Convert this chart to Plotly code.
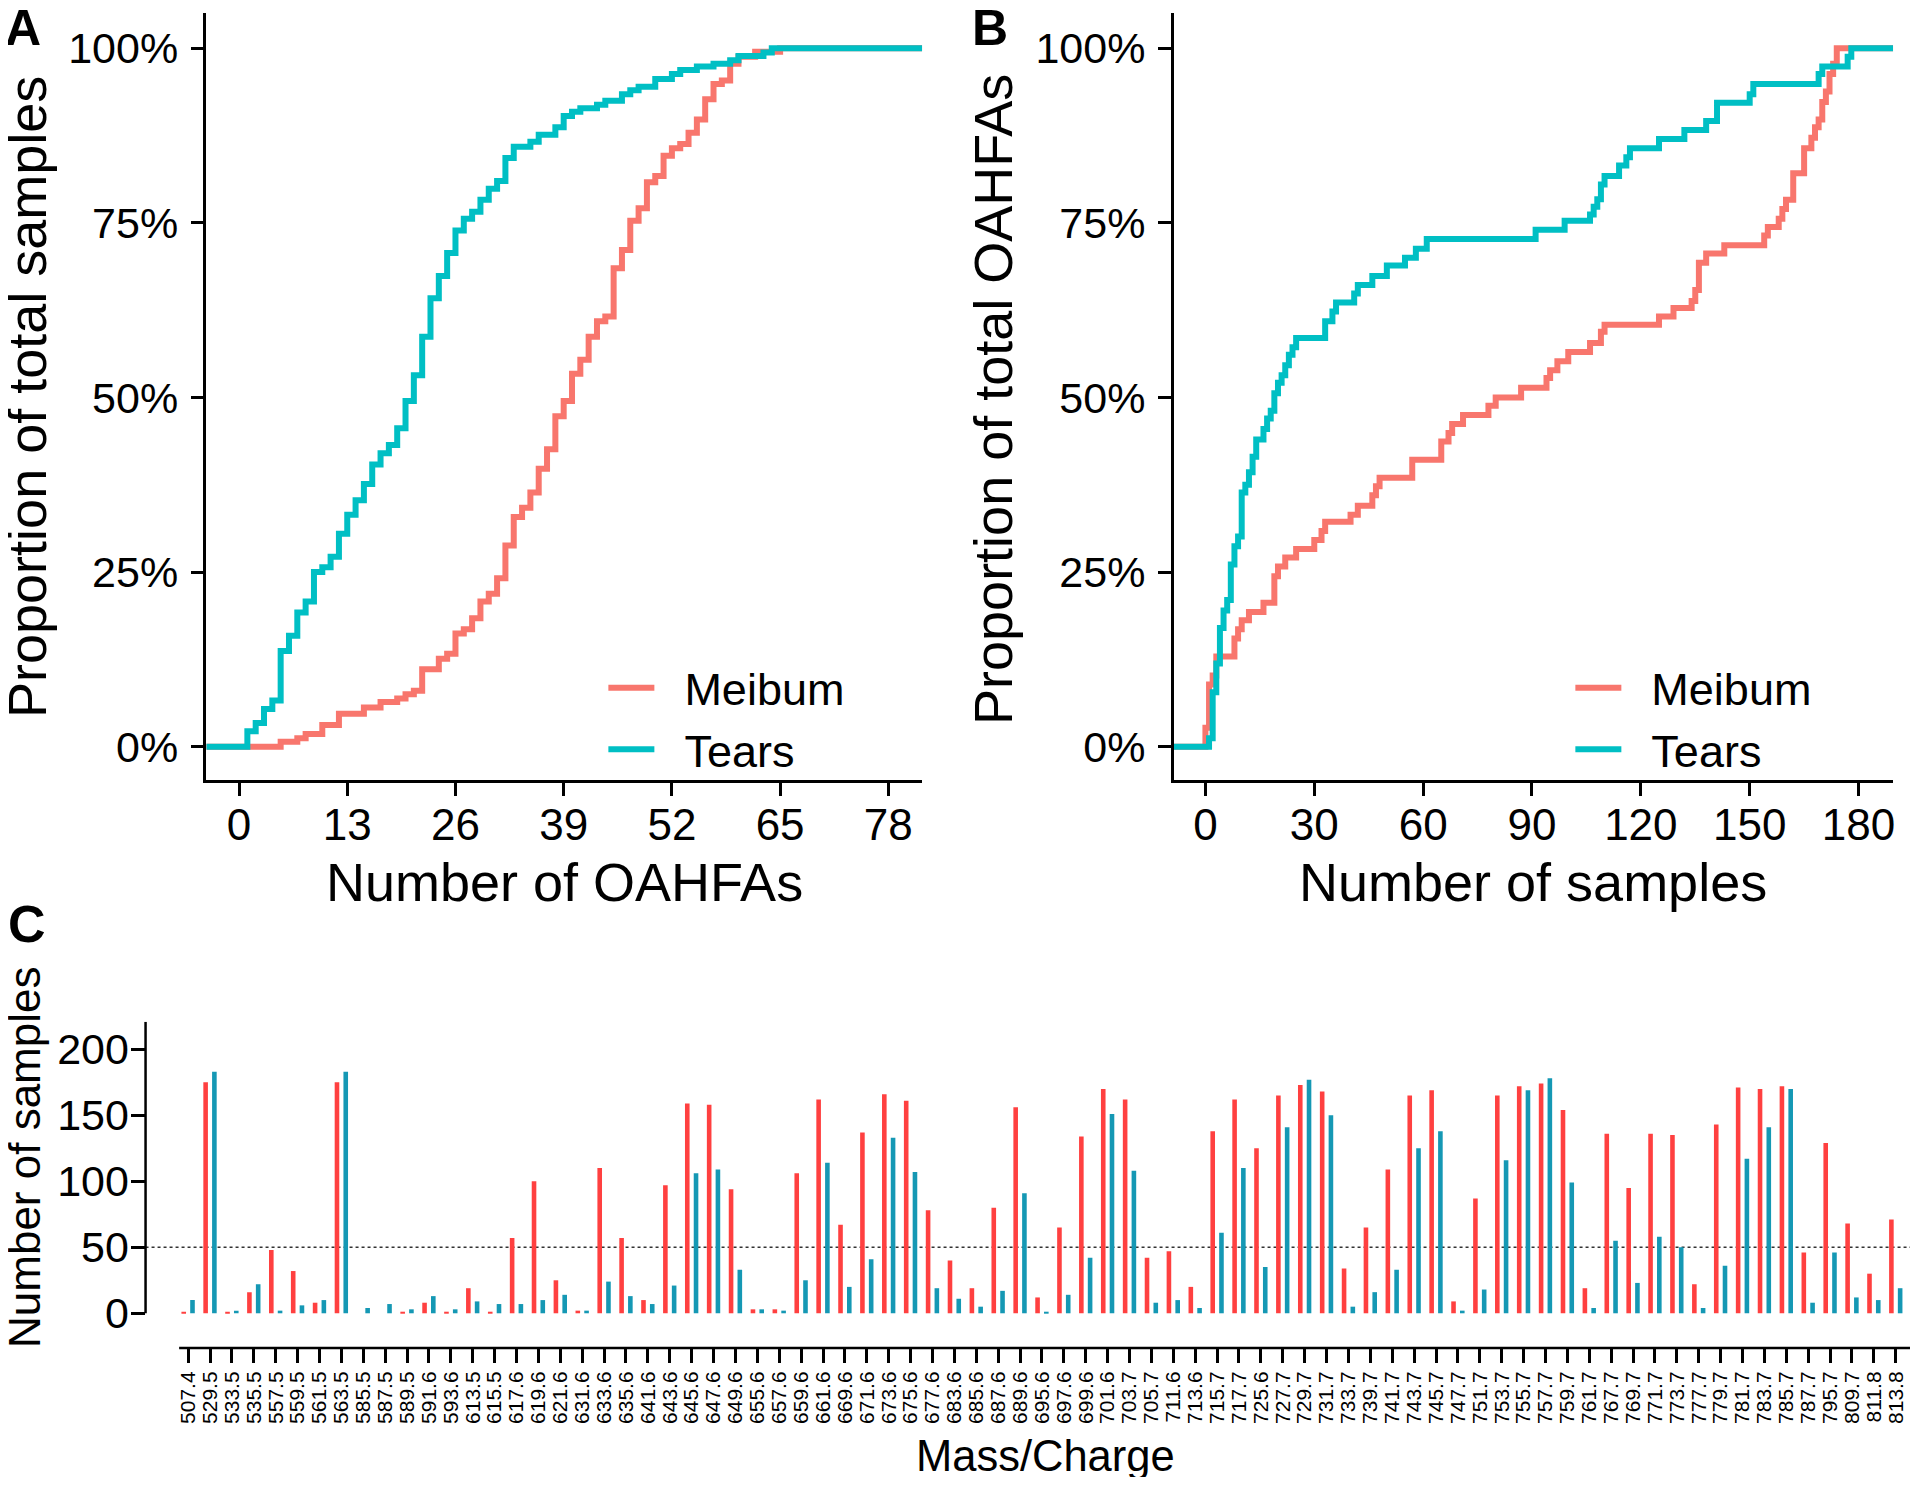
import plotly.graph_objects as go

# the page body keeps its default 8px margin, so the figure is drawn 8px in from the corner
PAGE_W, PAGE_H, BODY_MARGIN = 1920, 1485, 8
W, H = PAGE_W - 2 * BODY_MARGIN, PAGE_H - 2 * BODY_MARGIN
FONT = "Liberation Sans, Arial, Helvetica, sans-serif"
MEIBUM_LINE = "#F8766D"
TEARS_LINE = "#00BFC4"
MEIBUM_BAR = "#FF4040"
TEARS_BAR = "#1598B4"

# --- panel A: ECDF of number of OAHFAs per sample (step points) ---
a_meibum_x = [5, 7, 8, 10, 12, 15, 17, 19, 20, 21, 22, 24, 25, 26, 27, 28, 29, 30, 31, 32,
              33, 34, 35, 36, 37, 38, 39, 40, 41, 42, 43, 44, 45, 46, 47, 48, 49, 50, 51, 52,
              53, 54, 55, 56, 57, 58, 59, 60, 62, 65]
a_meibum_y = [0.007, 0.012, 0.018, 0.031, 0.047, 0.056, 0.064, 0.069, 0.075, 0.08,
              0.111, 0.126, 0.133, 0.162, 0.168, 0.184, 0.208, 0.219, 0.241, 0.288,
              0.329, 0.342, 0.364, 0.398, 0.426, 0.473, 0.495, 0.534, 0.554, 0.587,
              0.609, 0.616, 0.685, 0.711, 0.753, 0.771, 0.808, 0.817, 0.846, 0.857,
              0.863, 0.879, 0.898, 0.927, 0.949, 0.954, 0.978, 0.988, 0.995, 1.0]
a_tears_x = [1, 2, 3, 4, 5, 6, 7, 8, 9, 10, 11, 12, 13, 14, 15, 16, 17, 18, 19, 20,
             21, 22, 23, 24, 25, 26, 27, 28, 29, 30, 31, 32, 33, 35, 36, 38, 39, 40, 41, 43,
             44, 46, 47, 48, 50, 52, 53, 55, 57, 59, 60, 63, 64]
a_tears_y = [0.022, 0.034, 0.054, 0.066, 0.137, 0.159, 0.192, 0.208, 0.25, 0.257,
             0.272, 0.305, 0.332, 0.353, 0.376, 0.404, 0.42, 0.432, 0.456, 0.495,
             0.532, 0.587, 0.642, 0.674, 0.707, 0.739, 0.756, 0.766, 0.783, 0.799,
             0.81, 0.843, 0.859, 0.866, 0.876, 0.887, 0.903, 0.909, 0.914, 0.919,
             0.925, 0.934, 0.94, 0.945, 0.956, 0.963, 0.969, 0.974, 0.978, 0.983,
             0.989, 0.994, 1.0]

# --- panel B: ECDF of number of samples per OAHFA (step points) ---
b_meibum_x = [0, 1, 2, 3, 8, 9, 10, 12, 16, 19, 20, 22, 25, 30, 32, 33, 40, 42, 46, 47,
              48, 57, 65, 67, 68, 71, 78, 80, 87, 94, 95, 97, 100, 106, 109, 110, 125, 129, 134, 135,
              136, 138, 143, 154, 155, 158, 159, 160, 162, 165, 167, 168, 169, 170, 171, 172, 173, 174]
b_meibum_y = [0.027, 0.089, 0.102, 0.129, 0.155, 0.168, 0.181, 0.193, 0.206, 0.244,
              0.258, 0.271, 0.283, 0.296, 0.309, 0.322, 0.332, 0.345, 0.360, 0.373,
              0.385, 0.411, 0.437, 0.449, 0.462, 0.475, 0.488, 0.500, 0.514, 0.528,
              0.539, 0.552, 0.565, 0.578, 0.594, 0.604, 0.616, 0.628, 0.638, 0.654,
              0.693, 0.706, 0.718, 0.732, 0.744, 0.756, 0.770, 0.783, 0.821, 0.857,
              0.872, 0.887, 0.898, 0.923, 0.938, 0.963, 0.978, 1.0]
b_tears_x = [1, 2, 3, 4, 5, 6, 7, 8, 9, 10, 11, 12, 13, 14, 16, 17, 18, 19, 20, 21,
             22, 23, 24, 25, 33, 35, 36, 41, 42, 46, 50, 55, 58, 61, 91, 99, 106, 107, 108, 109,
             110, 114, 116, 117, 125, 132, 138, 141, 150, 151, 169, 170, 177, 178]
b_tears_y = [0.012, 0.078, 0.119, 0.170, 0.195, 0.210, 0.261, 0.287, 0.301, 0.364,
             0.375, 0.393, 0.415, 0.440, 0.455, 0.470, 0.481, 0.506, 0.521, 0.532,
             0.546, 0.561, 0.572, 0.585, 0.609, 0.623, 0.636, 0.649, 0.661, 0.674,
             0.689, 0.700, 0.713, 0.727, 0.740, 0.753, 0.762, 0.773, 0.784, 0.805,
             0.817, 0.832, 0.844, 0.857, 0.870, 0.883, 0.896, 0.922, 0.934, 0.949,
             0.963, 0.974, 0.988, 1.0]

# --- panel C: number of samples per mass/charge ---
mass_charge = ["507.4", "529.5", "533.5", "535.5", "557.5", "559.5", "561.5", "563.5", "585.5", "587.5",
               "589.5", "591.6", "593.6", "613.5", "615.5", "617.6", "619.6", "621.6", "631.6", "633.6",
               "635.6", "641.6", "643.6", "645.6", "647.6", "649.6", "655.6", "657.6", "659.6", "661.6",
               "669.6", "671.6", "673.6", "675.6", "677.6", "683.6", "685.6", "687.6", "689.6", "695.6",
               "697.6", "699.6", "701.6", "703.7", "705.7", "711.6", "713.6", "715.7", "717.7", "725.6",
               "727.7", "729.7", "731.7", "733.7", "739.7", "741.7", "743.7", "745.7", "747.7", "751.7",
               "753.7", "755.7", "757.7", "759.7", "761.7", "767.7", "769.7", "771.7", "773.7", "777.7",
               "779.7", "781.7", "783.7", "785.7", "787.7", "795.7", "809.7", "811.8", "813.8"]
meibum_counts = [1, 175, 1, 16, 48, 32, 8, 175, 0, 0,
                 1, 8, 1, 19, 1, 57, 100, 25, 2, 110,
                 57, 10, 97, 159, 158, 94, 3, 3, 106, 162,
                 67, 137, 166, 161, 78, 40, 19, 80, 156, 12,
                 65, 134, 170, 162, 42, 47, 20, 138, 162, 125,
                 165, 173, 168, 34, 65, 109, 165, 169, 9, 87,
                 165, 172, 174, 154, 19, 136, 95, 136, 135, 22,
                 143, 171, 170, 172, 46, 129, 68, 30, 71]
tears_counts = [10, 183, 2, 22, 2, 6, 10, 183, 4, 7,
                3, 13, 3, 9, 7, 7, 10, 14, 2, 24,
                13, 7, 21, 106, 109, 33, 3, 2, 25, 114,
                20, 41, 133, 107, 19, 11, 5, 17, 91, 1,
                14, 42, 151, 108, 8, 10, 4, 61, 110, 35,
                141, 177, 150, 5, 16, 33, 125, 138, 2, 18,
                116, 169, 178, 99, 4, 55, 23, 58, 50, 4,
                36, 117, 141, 170, 8, 46, 12, 10, 19]
THRESHOLD = 50

A_XRANGE = [-3.91, 82.05]
B_XRANGE = [-8.72, 189.5]
P_YRANGE = [-0.0477, 1.0505]
C_XRANGE = [-1.944, 78.65]
C_YRANGE = [-26.3, 220.9]


def px_x(v):
    # page pixel -> paper fraction
    return (v - BODY_MARGIN) / W


def px_y(v):
    return 1 - (v - BODY_MARGIN) / H


def ecdf_trace(xs, ys, xrange, name, color, axis, legend):
    # pad like ggplot's stat_ecdf: start at 0 before the data, end at 1 after it
    x = [xrange[0] - 10] + list(xs) + [xrange[1] + 10]
    y = [0] + list(ys) + [1]
    return go.Scatter(x=x, y=y, mode="lines", line=dict(color=color, width=6, shape="hv"),
                      name="\u00a0\u00a0" + name, xaxis="x" + axis, yaxis="y" + axis, legend=legend)


fig = go.Figure()
fig.add_trace(ecdf_trace(a_meibum_x, a_meibum_y, A_XRANGE, "Meibum", MEIBUM_LINE, "", "legend"))
fig.add_trace(ecdf_trace(a_tears_x, a_tears_y, A_XRANGE, "Tears", TEARS_LINE, "", "legend"))
fig.add_trace(ecdf_trace(b_meibum_x, b_meibum_y, B_XRANGE, "Meibum", MEIBUM_LINE, "2", "legend2"))
fig.add_trace(ecdf_trace(b_tears_x, b_tears_y, B_XRANGE, "Tears", TEARS_LINE, "2", "legend2"))

fig.add_trace(go.Bar(x=mass_charge, y=meibum_counts, marker=dict(color=MEIBUM_BAR, line=dict(width=0)),
                     width=0.21, offset=-0.305, xaxis="x3", yaxis="y3", showlegend=False, name="Meibum"))
fig.add_trace(go.Bar(x=mass_charge, y=tears_counts, marker=dict(color=TEARS_BAR, line=dict(width=0)),
                     width=0.21, offset=0.095, xaxis="x3", yaxis="y3", showlegend=False, name="Tears"))

axis_base = dict(showgrid=False, zeroline=False, ticks="outside", ticklen=13, tickwidth=2.5,
                 tickcolor="black", linecolor="black", linewidth=2.5,
                 tickfont=dict(size=44, color="black", family=FONT))

pct_y = dict(axis_base, range=P_YRANGE, tickvals=[0, 0.25, 0.5, 0.75, 1], tickformat=".0%",
             showline=True, ticklabelstandoff=4, domain=[px_y(780), px_y(13)],
             tickfont=dict(size=43, color="black", family=FONT))

legend_base = dict(xanchor="left", y=px_y(718.5), yanchor="middle", font=dict(size=45, family=FONT),
                   itemwidth=46, bgcolor="rgba(0,0,0,0)")

fig.update_layout(
    width=W, height=H,
    margin=dict(l=0, r=0, t=0, b=0),
    paper_bgcolor="white", plot_bgcolor="white",
    font=dict(family=FONT, color="black"),
    barmode="overlay",
    xaxis=dict(axis_base, domain=[px_x(206.7), px_x(923)], range=A_XRANGE,
               tickvals=[0, 13, 26, 39, 52, 65, 78], showline=True, anchor="y", ticklabelstandoff=-9),
    yaxis=dict(pct_y, anchor="x"),
    xaxis2=dict(axis_base, domain=[px_x(1175), px_x(1895)], range=B_XRANGE,
                tickvals=[0, 30, 60, 90, 120, 150, 180], showline=True, anchor="y2", ticklabelstandoff=-9),
    yaxis2=dict(pct_y, anchor="x2"),
    xaxis3=dict(axis_base, domain=[px_x(145.7), 1], type="category", range=C_XRANGE,
                tickmode="array", tickvals=mass_charge, ticktext=mass_charge, tickangle=-90,
                ticklen=14, showline=False, anchor="y3", ticklabelstandoff=0,
                tickfont=dict(size=21, color="black", family=FONT)),
    yaxis3=dict(axis_base, domain=[px_y(1348), px_y(1021.7)], range=C_YRANGE,
                tickvals=[0, 50, 100, 150, 200], ticklen=14, showline=False, anchor="x3",
                ticklabelstandoff=-7, tickfont=dict(size=43, color="black", family=FONT)),
    legend=dict(legend_base, x=px_x(604)),
    legend2=dict(legend_base, x=px_x(1572)),
)

# panel C axis lines are offset from each other, as in the original
fig.add_shape(type="line", xref="x3 domain", yref="y3", x0=0, x1=0, y0=0, y1=C_YRANGE[1],
              line=dict(color="black", width=2.5))
fig.add_shape(type="line", xref="x3", yref="y3 domain", x0=-0.41, x1=C_XRANGE[1], y0=0, y1=0,
              line=dict(color="black", width=2.5))
fig.add_shape(type="line", xref="x3 domain", yref="y3", x0=0, x1=1, y0=THRESHOLD, y1=THRESHOLD,
              line=dict(color="#333333", width=1.5, dash="dot"), layer="below")


def label(text, x, y, size, angle=0, bold=False):
    fig.add_annotation(text=f"<b>{text}</b>" if bold else text, x=px_x(x), y=px_y(y),
                       xref="paper", yref="paper", xanchor="center", yanchor="middle",
                       showarrow=False, textangle=angle, font=dict(size=size, family=FONT, color="black"))


label("A", 23.5, 28, 50, bold=True)
label("B", 991.5, 28, 50, bold=True)
label("C", 27, 924, 52, bold=True)
label("Proportion of total samples", 27, 397, 54, angle=-90)
label("Proportion of total OAHFAs", 994, 399, 54, angle=-90)
label("Number of OAHFAs", 565, 882, 54)
label("Number of samples", 1535, 882, 54)
label("Number of samples", 24, 1157, 44, angle=-90)
label("Mass/Charge", 1047, 1456, 43.5)

fig.write_html("out.html")
